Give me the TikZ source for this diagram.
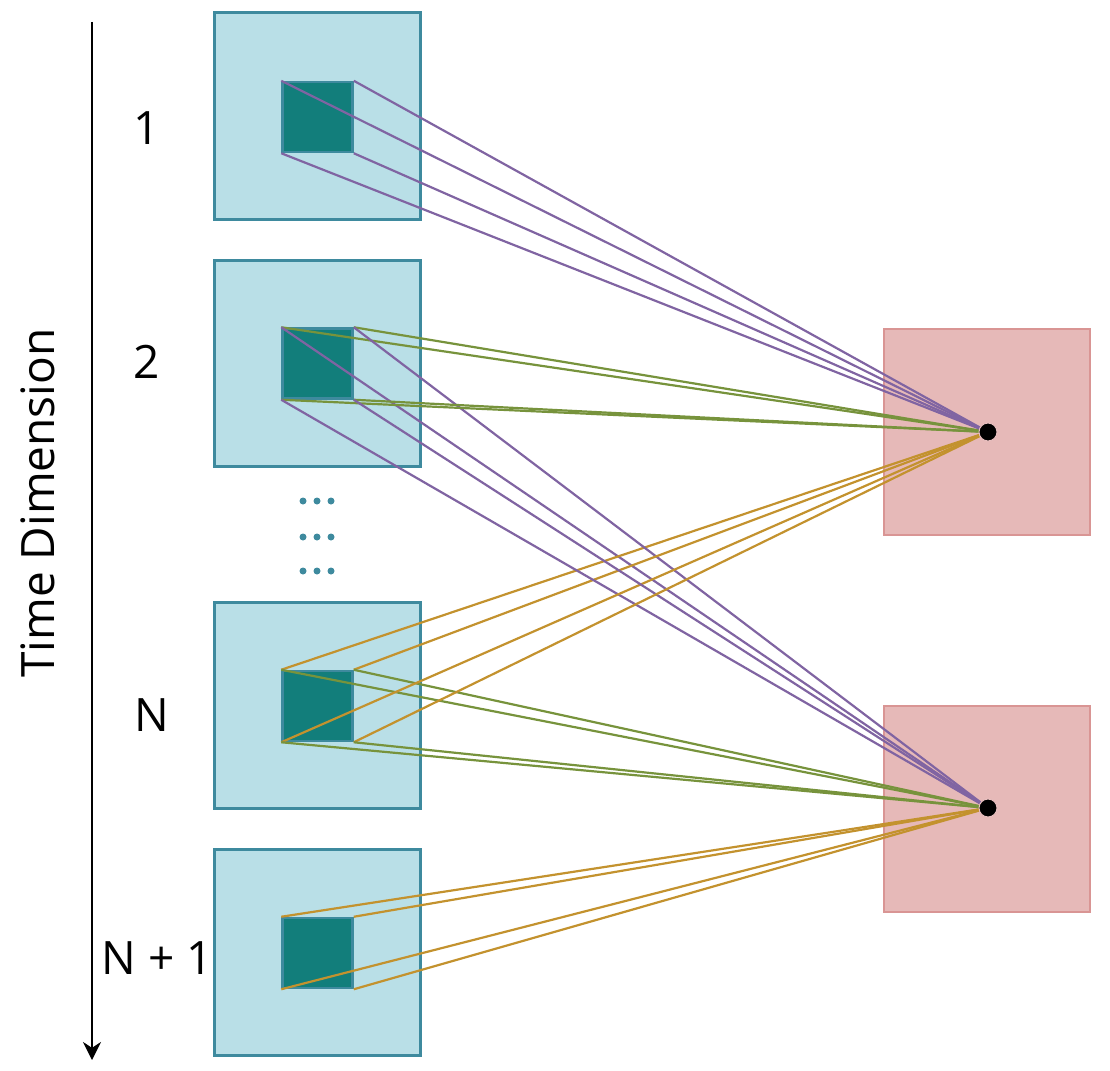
\documentclass[tikz,border=0pt]{standalone}
\usepackage{fontspec}
\setmainfont{Open Sans}
\usetikzlibrary{arrows.meta}
\definecolor{lblue}{HTML}{B9DFE7}
\definecolor{bborder}{HTML}{3E8A9E}
\definecolor{dteal}{HTML}{127E7B}
\definecolor{pinkf}{HTML}{E6B9B8}
\definecolor{pinkb}{HTML}{D99594}
\definecolor{lpurple}{HTML}{8064A2}
\definecolor{lgreen}{HTML}{77933C}
\definecolor{lgold}{HTML}{C3922E}
\tikzset{
  frame/.style={draw=bborder, fill=lblue, line width=3pt, minimum size=206pt, inner sep=0pt, rectangle},
  patch/.style={draw=bborder, fill=dteal, line width=2.5pt, minimum size=70pt, inner sep=0pt, rectangle},
  outbox/.style={draw=pinkb, fill=pinkf, line width=2pt, minimum size=206pt, inner sep=0pt, rectangle},
  pt/.style={circle, fill=black, draw=pinkb!60, line width=1pt, minimum size=18pt, inner sep=0pt},
  lbl/.style={font=\fontsize{46}{50}\selectfont, inner sep=0pt},
  conn/.style={line width=2.2pt},
  ell/.style={circle, fill=bborder, minimum size=7pt, inner sep=0pt}
}
\begin{document}
\begin{tikzpicture}[x=1pt, y=-1pt]
\useasboundingbox (0,0) rectangle (1110,1070);
% frames
\node[frame] (f1) at (317,116) {};
\node[frame] (f2) at (317,363.5) {};
\node[frame] (f3) at (317,705.5) {};
\node[frame] (f4) at (317,952.5) {};
\node[patch] (s1) at (317.5,117) {};
\node[patch] (s2) at (317.5,363.5) {};
\node[patch] (s3) at (317.5,706) {};
\node[patch] (s4) at (317.5,953) {};
% output boxes
\node[outbox] (o1) at (987,431.5) {};
\node[outbox] (o2) at (987,808.5) {};
\coordinate (p1) at (988,432);
\coordinate (p2) at (988,808);
% connectors
\foreach \c in {north west, north east, south west, south east} {
  \draw[conn, lpurple] (s1.\c) -- (p1);
  \draw[conn, lgreen] (s2.\c) -- (p1);
  \draw[conn, lpurple] (s2.\c) -- (p2);
  \draw[conn, lgold] (s3.\c) -- (p1);
  \draw[conn, lgreen] (s3.\c) -- (p2);
  \draw[conn, lgold] (s4.\c) -- (p2);
}
\node[pt] (d1) at (p1) {};
\node[pt] (d2) at (p2) {};
% ellipsis dots
\foreach \yy [count=\i] in {501,537,571} {
  \foreach \xx [count=\j] in {303,317,331} {
    \node[ell] (e\i\j) at (\xx,\yy) {};
  }
}
% labels
\node[lbl] (l1) at (147,128) {1};
\node[lbl] (l2) at (147,362) {2};
\node[lbl] (l3) at (152,715) {N};
\node[lbl] (l4) at (157,958) {N + 1};
% time axis
\coordinate (tstart) at (92,22);
\coordinate (tend) at (92,1060);
\draw[line width=2.5pt, -{Stealth[length=18pt, width=18pt]}] (tstart) -- (tend);
\node[lbl, rotate=90] (tl) at (38,503) {Time Dimension};
\end{tikzpicture}
\end{document}
